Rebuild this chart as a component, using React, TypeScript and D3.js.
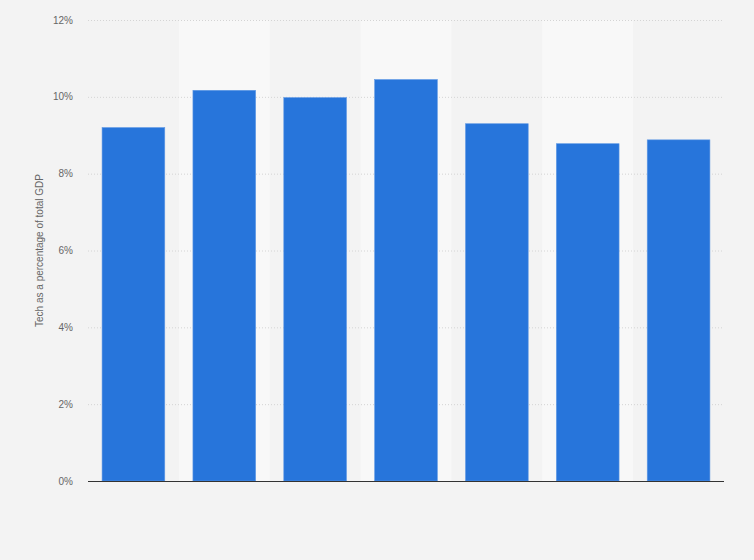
import * as d3 from "d3";
import React from "react";

const categories = ["2015", "2016", "2017", "2018", "2019", "2020", "2021"];
const values = [9.2, 10.17, 9.98, 10.45, 9.3, 8.78, 8.88];
const yTicks = [0, 2, 4, 6, 8, 10, 12];

const W = 754;
const H = 560;
const m = { l: 88, r: 30, t: 20, b: 79 };

const App: React.FC = () => {
  const x = d3.scaleBand<string>().domain(categories).range([m.l, W - m.r]).paddingInner(0).paddingOuter(0);
  const y = d3.scaleLinear().domain([0, 12]).range([H - m.b, m.t]);
  const barW = x.bandwidth() * 0.69;

  return (
    <svg width={W} height={H} style={{ position: "absolute", left: 0, top: 0, fontFamily: "Arial, 'Liberation Sans', sans-serif" }}>
      <rect width={W} height={H} fill="#f3f3f3" />
      {categories.map((c, i) =>
        i % 2 === 1 ? <rect key={c} x={x(c)} y={m.t} width={x.bandwidth()} height={y(0) - m.t} fill="#f8f8f8" /> : null
      )}
      {yTicks.map((t) => (
        <g key={t}>
          {t > 0 && (
            <line x1={m.l} x2={W - m.r} y1={y(t) + 0.5} y2={y(t) + 0.5} stroke="#d4d4d4" strokeWidth={1} strokeDasharray="1,2" />
          )}
          <text x={73} y={y(t)} dy="0.35em" textAnchor="end" fontSize={10} fill="#666">
            {t}%
          </text>
        </g>
      ))}
      {categories.map((c, i) => (
        <rect
          key={c}
          x={(x(c) as number) + (x.bandwidth() - barW) / 2}
          y={y(values[i])}
          width={barW}
          height={y(0) - y(values[i])}
          fill="#2775db"
          stroke="#5f98e4"
          strokeWidth={0.6}
        />
      ))}
      <line x1={m.l} x2={W - m.r} y1={y(0) + 0.5} y2={y(0) + 0.5} stroke="#333" strokeWidth={1.2} />
      <text
        transform={`translate(43, ${(y(0) + m.t) / 2}) rotate(-90)`}
        textAnchor="middle"
        fontSize={10}
        fill="#666"
      >
        Tech as a percentage of total GDP
      </text>
    </svg>
  );
};

export default App;
